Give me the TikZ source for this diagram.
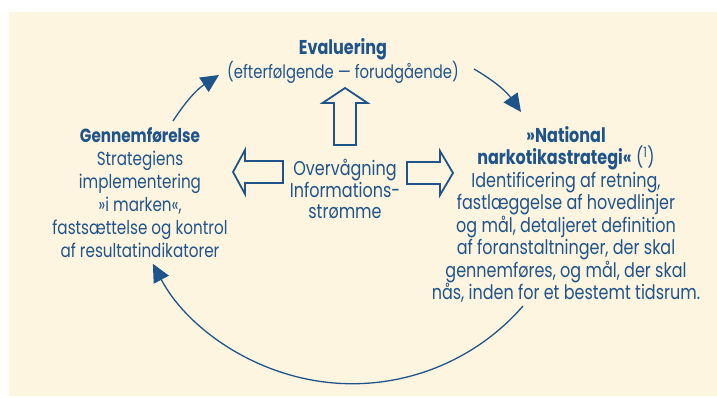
\documentclass[tikz,border=0pt]{standalone}
\usepackage{fontspec}
\setmainfont{Poppins}[FakeStretch=0.8]
\usetikzlibrary{arrows.meta}
\definecolor{cream}{RGB}{254,245,225}
\definecolor{navy}{RGB}{30,84,138}
\tikzset{
  txt/.style={text=navy, align=center, inner sep=0pt,
    font=\fontsize{20}{22.5}\selectfont},
  cycle/.style={draw=navy, line width=1.3pt,
    -{Triangle[length=18pt,width=17pt]}},
  hollow/.style={draw=navy, line width=1.8pt, fill=cream, line join=miter}
}
\begin{document}
\begin{tikzpicture}[x=1pt,y=-1pt]
\useasboundingbox (0,0) rectangle (717,398);
\fill[cream] (9,12) rectangle (717,396);

% text blocks
\node[txt] (eval) at (343,61) {\textbf{Evaluering}\\{\fontsize{18.5}{22.5}\selectfont(efterfølgende — forudgående)}};
\node[txt, font=\fontsize{20}{21.5}\selectfont] (mon) at (345,189) {Overvågning\\Informations-\\strømme};
\node[txt, font=\fontsize{19}{23}\selectfont] (impl) at (140,193) {\textbf{Gennemførelse}\\Strategiens\\implementering\\»i marken«,\\fastsættelse og kontrol\\af resultatindikatorer};
\node[txt] (nat) at (566,214.5) {\textbf{»National}\\\textbf{narkotikastrategi«} (\textsuperscript{1})\\Identificering af retning,\\fastlæggelse af hovedlinjer\\og mål, detaljeret definition\\af foranstaltninger, der skal\\gennemføres, og mål, der skal\\nås, inden for et bestemt tidsrum.};

% cycle arrows
\coordinate (a1) at (173,121);
\coordinate (a2) at (219,75);
\coordinate (b1) at (474,69);
\coordinate (b2) at (521,112);
\coordinate (c1) at (523,306);
\draw[cycle] (a1) to[bend left=12] (a2);
\draw[cycle] (b1) to[bend left=12] (b2);
\draw[cycle] (c1) arc[start angle=41, end angle=152, radius=226];

% hollow information-flow arrows
\draw[hollow] (334,145) -- (334,103) -- (322.5,103) -- (345,88) -- (367.5,103) -- (356,103) -- (356,145) -- cycle;
\draw[hollow] (283,161) -- (245,161) -- (245,150) -- (233,172) -- (245,194) -- (245,183) -- (283,183) -- cycle;
\draw[hollow] (407,162) -- (440,162) -- (440,151) -- (453,173) -- (440,195) -- (440,184) -- (407,184) -- cycle;
\end{tikzpicture}
\end{document}
